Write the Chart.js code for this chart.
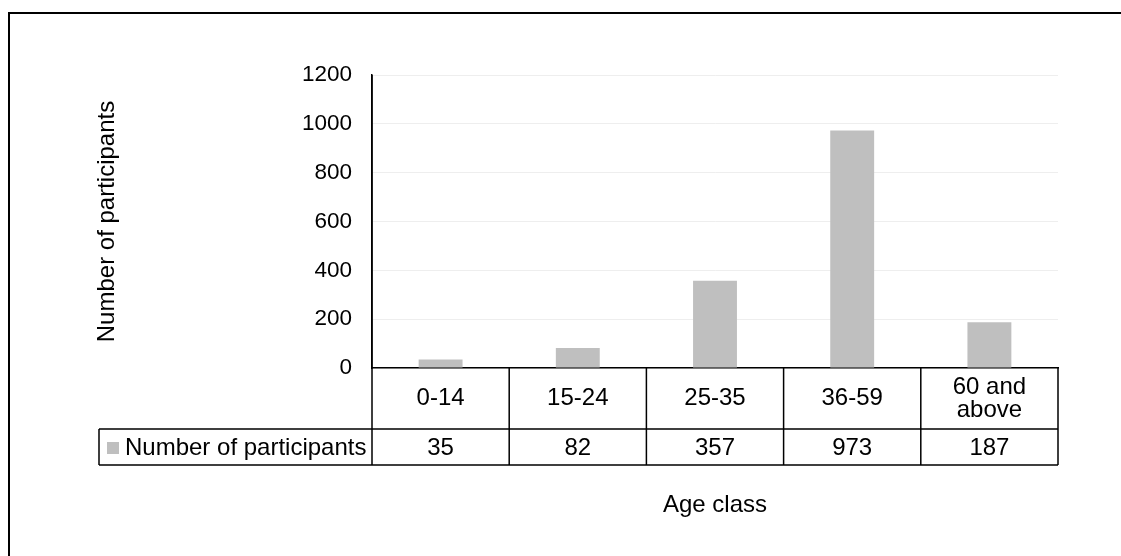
<!DOCTYPE html>
<html>
<head>
<meta charset="utf-8">
<script src="https://cdn.jsdelivr.net/npm/chart.js"></script>
<style>
  html, body { margin: 0; padding: 0; background: #fff; }
  canvas { display: block; }
</style>
</head>
<body>
<canvas id="age-chart" width="1121" height="556"></canvas>
<script>
// data
const ageClasses = ['0-14', '15-24', '25-35', '36-59', ['60 and', 'above']];
const participants = [35, 82, 357, 973, 187];
const seriesName = 'Number of participants';
const yMax = 1200;
const yStep = 200;

const FONT = '"Liberation Sans", Arial, sans-serif';
Chart.defaults.font.family = FONT;
Chart.defaults.color = '#000';

// frame round the whole chart (Excel chart area border)
const frame = {
  id: 'frame',
  afterDraw(chart) {
    const ctx = chart.ctx;
    ctx.save();
    ctx.strokeStyle = '#000';
    ctx.lineWidth = 2;
    ctx.strokeRect(9, 13, chart.width + 20, chart.height + 20);
    ctx.restore();
  }
};

// data table under the x axis, aligned to the category scale
const dataTable = {
  id: 'dataTable',
  afterDraw(chart) {
    const ctx = chart.ctx;
    const x = chart.scales.x;
    const area = chart.chartArea;
    const top = area.bottom;
    const mid = top + 61;
    const bottom = mid + 36;
    const legendLeft = 99;
    const half = (x.getPixelForValue(1) - x.getPixelForValue(0)) / 2;

    ctx.save();
    ctx.strokeStyle = '#000';
    ctx.lineWidth = 1.5;
    ctx.beginPath();
    // y axis continues down through the table
    ctx.moveTo(area.left, area.top);
    ctx.lineTo(area.left, bottom);
    ctx.moveTo(area.right, top);
    ctx.lineTo(area.right, bottom);
    ctx.moveTo(legendLeft, mid);
    ctx.lineTo(area.right, mid);
    ctx.moveTo(legendLeft, bottom);
    ctx.lineTo(area.right, bottom);
    ctx.moveTo(legendLeft, mid);
    ctx.lineTo(legendLeft, bottom);
    ageClasses.forEach((c, i) => {
      if (i === 0) return;
      const px = x.getPixelForValue(i) - half;
      ctx.moveTo(px, top);
      ctx.lineTo(px, bottom);
    });
    ctx.stroke();

    ctx.fillStyle = '#000';
    ctx.font = '24px ' + FONT;
    ctx.textAlign = 'center';
    ctx.textBaseline = 'middle';
    ageClasses.forEach((c, i) => {
      const px = x.getPixelForValue(i);
      const lines = Array.isArray(c) ? c : [c];
      const cy = (top + mid) / 2 - (lines.length - 1) * 11.5;
      lines.forEach((l, j) => ctx.fillText(l, px, cy + j * 23));
      ctx.fillText(String(participants[i]), px, (mid + bottom) / 2 + 1);
    });

    // legend key
    ctx.fillStyle = chart.data.datasets[0].backgroundColor;
    ctx.fillRect(legendLeft + 8, (mid + bottom) / 2 - 5, 12, 12);
    ctx.fillStyle = '#000';
    ctx.textAlign = 'left';
    ctx.fillText(seriesName, legendLeft + 26, (mid + bottom) / 2 + 1);
    ctx.restore();
  }
};

new Chart(document.getElementById('age-chart'), {
  type: 'bar',
  data: {
    labels: ageClasses,
    datasets: [{
      label: seriesName,
      data: participants,
      backgroundColor: '#bfbfbf',
      barPercentage: 0.32,
      categoryPercentage: 1
    }]
  },
  options: {
    responsive: false,
    animation: false,
    devicePixelRatio: 1,
    layout: { padding: { top: 75, right: 63, left: 0, bottom: 0 } },
    plugins: {
      legend: { display: false },
      tooltip: { enabled: false }
    },
    scales: {
      x: {
        afterFit(scale) { scale.height = 188; },
        ticks: { display: false },
        grid: { display: false },
        border: { color: '#000', width: 1.5 },
        title: {
          display: true,
          text: 'Age class',
          font: { size: 24 },
          padding: { top: 0, bottom: 36 }
        }
      },
      y: {
        min: 0,
        max: yMax,
        afterFit(scale) { scale.width = 372; },
        ticks: {
          stepSize: yStep,
          font: { size: 22.5 },
          padding: 20,
          callback: (v) => String(v)
        },
        grid: { color: '#eeeeee', drawTicks: false },
        border: { color: '#000', width: 1.5 },
        title: {
          display: true,
          text: seriesName,
          font: { size: 24 },
          padding: { top: 93, bottom: 0 }
        }
      }
    }
  },
  plugins: [frame, dataTable]
});
</script>
</body>
</html>
